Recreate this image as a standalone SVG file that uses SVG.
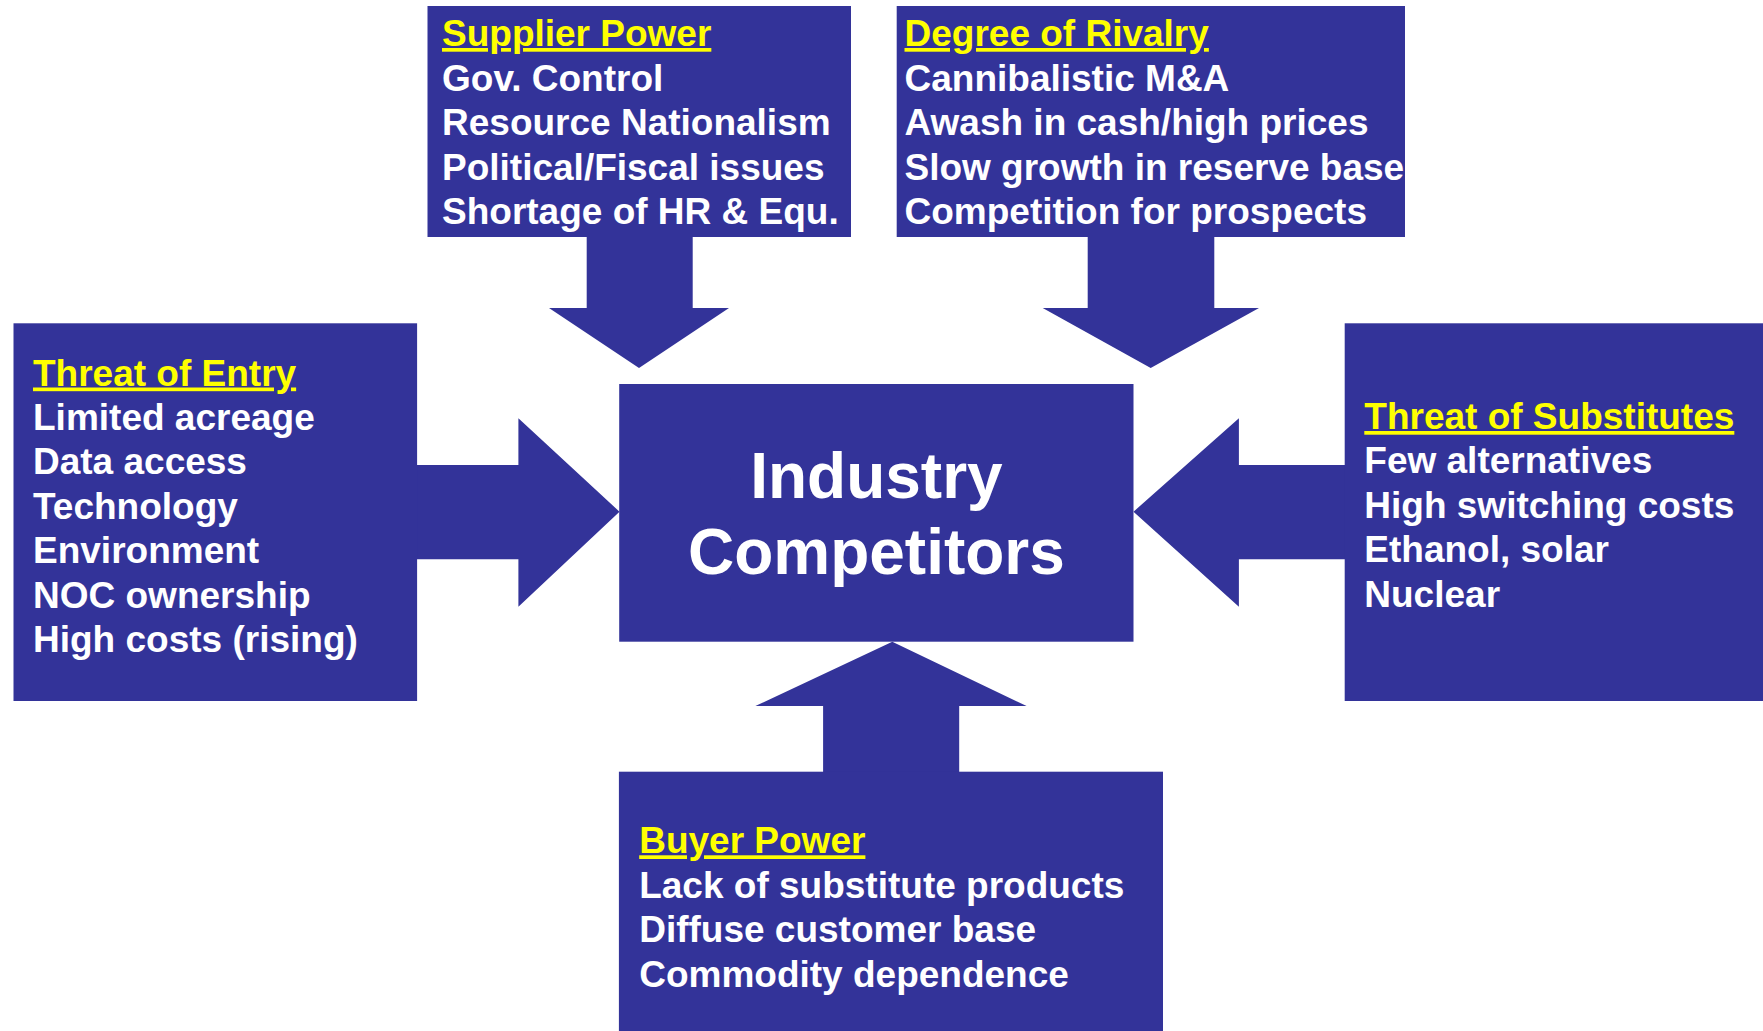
<svg xmlns="http://www.w3.org/2000/svg" width="1763" height="1031" viewBox="0 0 1763 1031">
<style>
.box{fill:#333399}
.arr{fill:#333399}
text{font-family:"Liberation Sans",Arial,sans-serif;font-weight:bold;font-size:37px;fill:#ffffff}
.ttl{fill:#ffff00;text-decoration:underline;text-decoration-skip-ink:none;text-decoration-thickness:3px;text-underline-offset:5px}
.big{font-size:64px;text-anchor:middle}
</style>
<rect width="1763" height="1031" fill="#ffffff"/>
<g id="connectors">
<polygon class="arr" points="586.7,235 692.7,235 692.7,308 729,308 639,368 549,308 586.7,308"/>
<polygon class="arr" points="1087.7,235 1214.3,235 1214.3,308 1259,308 1150.7,368 1042.7,308 1087.7,308"/>
<polygon class="arr" points="415,465 518.4,465 518.4,418.3 619.5,511.7 518.4,606.7 518.4,559.3 415,559.3"/>
<polygon class="arr" points="1346.7,465 1238.9,465 1238.9,418.3 1133.5,511.7 1238.9,606.7 1238.9,559.3 1346.7,559.3"/>
<polygon class="arr" points="823.1,773.7 823.1,706 755.4,706 892.3,641.7 1026.6,706 959.2,706 959.2,773.7"/>
</g>
<g id="supplier">
<rect class="box" x="427.5" y="6" width="423.5" height="231"/>
<text x="442" y="46" class="ttl">Supplier Power</text>
<text x="442" y="90.5">Gov. Control</text>
<text x="442" y="135">Resource Nationalism</text>
<text x="442" y="179.5">Political/Fiscal issues</text>
<text x="442" y="224">Shortage of HR &amp; Equ.</text>
</g>
<g id="rivalry">
<rect class="box" x="896.7" y="6" width="508.3" height="231"/>
<text x="904.5" y="46" class="ttl">Degree of Rivalry</text>
<text x="904.5" y="90.5">Cannibalistic M&amp;A</text>
<text x="904.5" y="135">Awash in cash/high prices</text>
<text x="904.5" y="179.5">Slow growth in reserve base</text>
<text x="904.5" y="224">Competition for prospects</text>
</g>
<g id="entry">
<rect class="box" x="13.5" y="323.3" width="403.6" height="377.7"/>
<text x="33" y="385.5" class="ttl">Threat of Entry</text>
<text x="33" y="429.9">Limited acreage</text>
<text x="33" y="474.3">Data access</text>
<text x="33" y="518.7">Technology</text>
<text x="33" y="563.1">Environment</text>
<text x="33" y="607.5">NOC ownership</text>
<text x="33" y="651.9">High costs (rising)</text>
</g>
<g id="substitutes">
<rect class="box" x="1344.7" y="323.3" width="418.3" height="377.7"/>
<text x="1364.3" y="429" class="ttl">Threat of Substitutes</text>
<text x="1364.3" y="473.4">Few alternatives</text>
<text x="1364.3" y="517.8">High switching costs</text>
<text x="1364.3" y="562.2">Ethanol, solar</text>
<text x="1364.3" y="606.6">Nuclear</text>
</g>
<g id="competitors">
<rect class="box" x="619.2" y="384" width="514.3" height="257.7"/>
<text x="876.4" y="498" class="big">Industry</text>
<text x="876.4" y="573.5" class="big">Competitors</text>
</g>
<g id="buyer">
<rect class="box" x="618.9" y="771.7" width="544.1" height="259.3"/>
<text x="639.2" y="853.3" class="ttl">Buyer Power</text>
<text x="639.2" y="897.7">Lack of substitute products</text>
<text x="639.2" y="942.1">Diffuse customer base</text>
<text x="639.2" y="986.5">Commodity dependence</text>
</g>
</svg>
